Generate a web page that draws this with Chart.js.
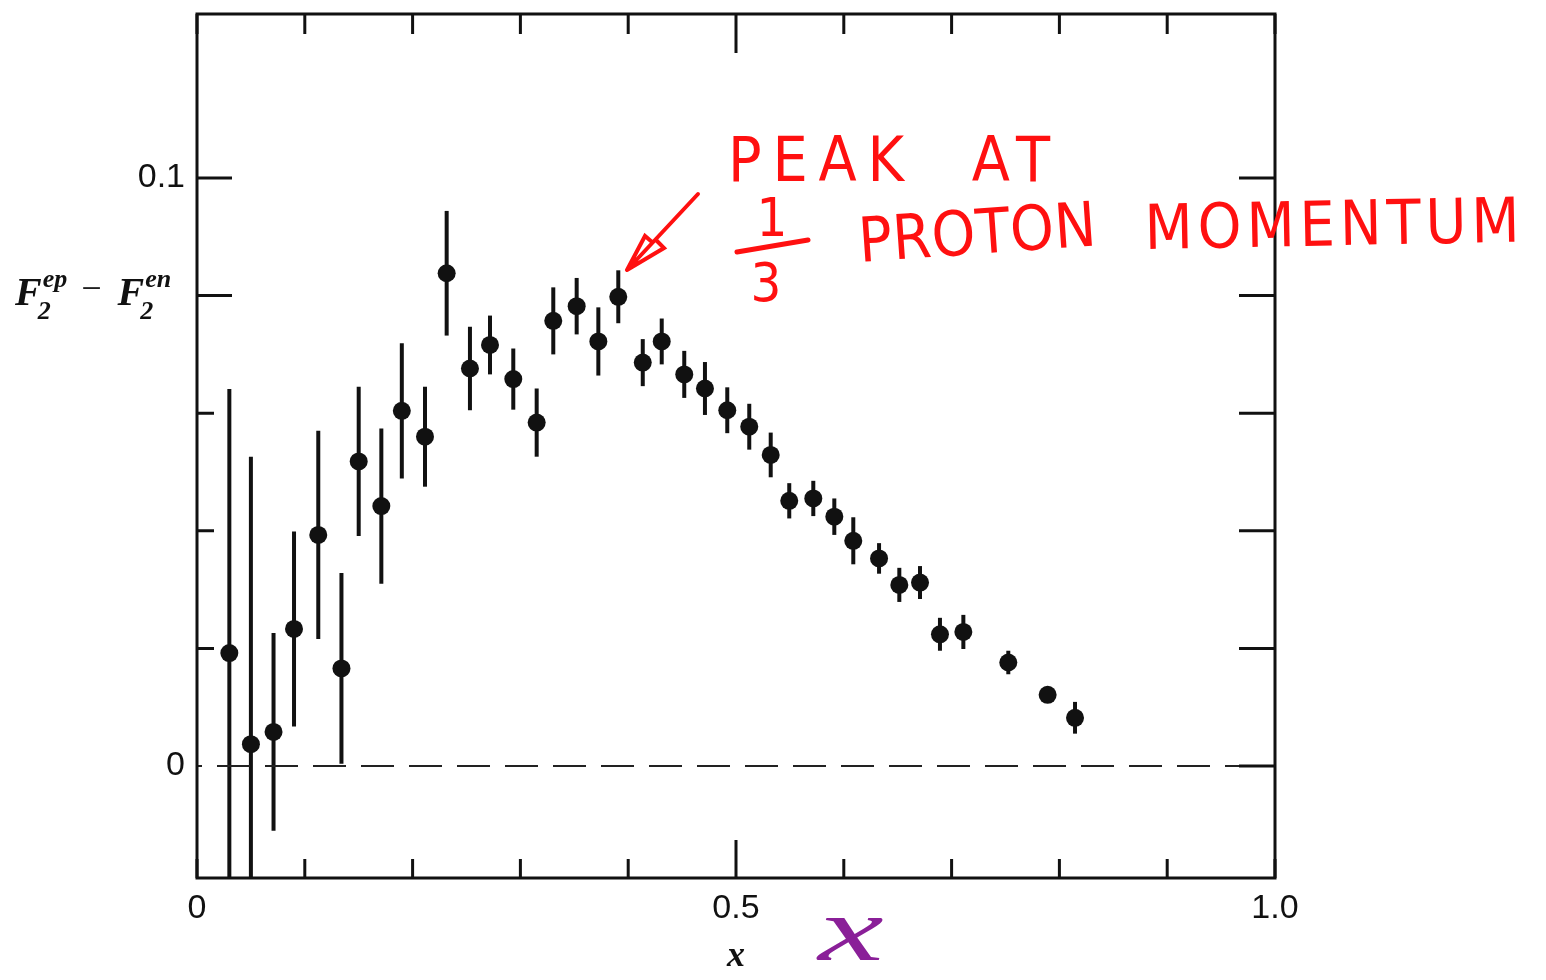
<!DOCTYPE html>
<html>
<head>
<meta charset="utf-8">
<title>F2ep - F2en</title>
<script src="https://cdn.jsdelivr.net/npm/chart.js@4.4.1/dist/chart.umd.min.js"></script>
<style>
    html, body { margin: 0; padding: 0; background: #ffffff; }
    #wrap { width: 1546px; height: 980px; position: relative; }
</style>
</head>
<body>
<div id="wrap"><canvas id="chart"></canvas></div>
<script>
// ---- data ----
const xValues = [0.030, 0.050, 0.071, 0.090, 0.1125, 0.134, 0.150, 0.171, 0.190, 0.2115,
                 0.2316, 0.2532, 0.2718, 0.2934, 0.3151, 0.3305, 0.3522, 0.3723, 0.3908, 0.4135,
                 0.4311, 0.452, 0.4712, 0.4919, 0.5123, 0.5322, 0.5494, 0.5717, 0.5912, 0.6088,
                 0.6327, 0.6515, 0.6707, 0.6892, 0.7109, 0.7526, 0.7891, 0.8145];
const yValues = [0.0192, 0.0037, 0.0058, 0.0233, 0.0393, 0.0166, 0.0518, 0.0442, 0.0604, 0.0560,
                 0.0838, 0.0676, 0.0716, 0.0658, 0.0584, 0.0757, 0.0782, 0.0722, 0.0798, 0.0686,
                 0.0722, 0.0666, 0.0642, 0.0605, 0.0577, 0.0529, 0.0451, 0.0455, 0.0424, 0.0383,
                 0.0353, 0.0308, 0.0312, 0.0224, 0.0228, 0.0176, 0.0121, 0.0082];
const yErrors = [0.0449, 0.0489, 0.0168, 0.0166, 0.0177, 0.0162, 0.0127, 0.0132, 0.0115, 0.0085,
                 0.0106, 0.0071, 0.0050, 0.0052, 0.0058, 0.0057, 0.0048, 0.0058, 0.0045, 0.0040,
                 0.0039, 0.0040, 0.0045, 0.0039, 0.0039, 0.0038, 0.0030, 0.0030, 0.0031, 0.0040,
                 0.0026, 0.0029, 0.0028, 0.0028, 0.0029, 0.0020, 0.0012, 0.0027];

const xTickValues = [0, 0.1, 0.2, 0.3, 0.4, 0.5, 0.6, 0.7, 0.8, 0.9, 1.0];
const xTickLabels = ['0', '', '', '', '', '0.5', '', '', '', '', '1.0'];
const yTickValues = [0, 0.02, 0.04, 0.06, 0.08, 0.1];
const yTickLabels = ['0', '', '', '', '', '0.1'];

const xRange = [0, 1.0];
const yRange = [-0.01905, 0.12789];
const zeroLine = [0, 0];

// error bars under the markers
const errorBars = {
    id: 'errorBars',
    beforeDatasetsDraw(chart) {
        const { ctx, chartArea, scales: { x, y } } = chart;
        ctx.save();
        ctx.beginPath();
        ctx.rect(chartArea.left, chartArea.top, chartArea.right - chartArea.left, chartArea.bottom - chartArea.top);
        ctx.clip();
        ctx.strokeStyle = '#111';
        ctx.lineWidth = 4;
        xValues.forEach((xv, i) => {
            const px = x.getPixelForValue(xv);
            ctx.beginPath();
            ctx.moveTo(px, y.getPixelForValue(yValues[i] - yErrors[i]));
            ctx.lineTo(px, y.getPixelForValue(yValues[i] + yErrors[i]));
            ctx.stroke();
        });
        ctx.restore();
    }
};

// box frame with inward ticks on all four sides
const frameTicks = {
    id: 'frameTicks',
    afterDatasetsDraw(chart) {
        const { ctx, chartArea: a, scales: { x, y } } = chart;
        ctx.save();
        ctx.strokeStyle = '#111';
        ctx.lineWidth = 3;
        ctx.strokeRect(a.left, a.top, a.right - a.left, a.bottom - a.top);
        ctx.beginPath();
        xTickValues.forEach(v => {
            const px = x.getPixelForValue(v);
            const len = (v === 0.5) ? 38 : 19;
            ctx.moveTo(px, a.bottom); ctx.lineTo(px, a.bottom - len);
            ctx.moveTo(px, a.top); ctx.lineTo(px, a.top + len + 1);
        });
        yTickValues.forEach(v => {
            const py = y.getPixelForValue(v);
            if (v !== 0) {
                const leftLen = (v >= 0.08) ? 35 : 17;
                ctx.moveTo(a.left, py); ctx.lineTo(a.left + leftLen, py);
            }
            ctx.moveTo(a.right, py); ctx.lineTo(a.right - 36, py);
        });
        ctx.stroke();
        ctx.restore();
    }
};

// write text stretched by letter spacing so it covers a given width
function spreadText(ctx, text, x, y, width) {
    ctx.letterSpacing = '0px';
    const w = ctx.measureText(text).width;
    const gap = Math.max(0, (width - w) / (text.length - 1));
    ctx.letterSpacing = gap + 'px';
    ctx.fillText(text, x, y);
    ctx.letterSpacing = '0px';
}

// axis titles and the hand-written notes
const notes = {
    id: 'notes',
    afterDraw(chart) {
        const { ctx, scales: { x, y } } = chart;
        ctx.save();
        ctx.fillStyle = '#111';
        ctx.textBaseline = 'alphabetic';

        // y title  F2^ep - F2^en
        const base = y.getPixelForValue(0.08) + 9;
        let cx = 15;
        const big = 'italic bold 40px "Liberation Serif", serif';
        const small = 'italic bold 26px "Liberation Serif", serif';
        function fTerm(sup) {
            ctx.font = big;
            ctx.fillText('F', cx, base);
            cx += ctx.measureText('F').width + 1;
            ctx.font = small;
            ctx.fillText(sup, cx, base - 18);
            ctx.fillText('2', cx - 5, base + 14);
            cx += ctx.measureText(sup).width;
        }
        fTerm('ep');
        ctx.font = '36px "Liberation Serif", serif';
        ctx.fillText('\u2212', cx + 14, base - 5);
        cx += 14 + ctx.measureText('\u2212').width + 16;
        fTerm('en');

        // x title
        ctx.font = 'italic bold 36px "Liberation Serif", serif';
        ctx.textAlign = 'center';
        ctx.fillText('x', x.getPixelForValue(0.5), 966);

        // purple hand-written x
        ctx.save();
        ctx.fillStyle = '#8a1f98';
        ctx.font = 'italic 92px "Liberation Serif", serif';
        ctx.translate(851, 960);
        ctx.scale(1.6, 1);
        ctx.fillText('x', 0, 0);
        ctx.restore();

        // red annotation
        ctx.fillStyle = '#ff1010';
        ctx.strokeStyle = '#ff1010';
        ctx.textAlign = 'left';
        const hand = '62px "DejaVu Sans Condensed", "Liberation Sans Narrow", sans-serif';
        ctx.font = hand;
        spreadText(ctx, 'PEAK  AT', 728, 181, 322);

        ctx.save();
        ctx.translate(860, 262);
        ctx.rotate(-0.07);
        spreadText(ctx, 'PROTON', 0, 0, 238);
        ctx.restore();

        ctx.save();
        ctx.translate(1145, 249);
        ctx.rotate(-0.02);
        spreadText(ctx, 'MOMENTUM', 0, 0, 375);
        ctx.restore();

        ctx.font = '54px "DejaVu Sans Condensed", "Liberation Sans Narrow", sans-serif';
        ctx.textAlign = 'center';
        ctx.fillText('1', 772, 236);
        ctx.fillText('3', 766, 301);
        ctx.lineWidth = 5;
        ctx.lineCap = 'round';
        ctx.beginPath();
        ctx.moveTo(737, 252); ctx.lineTo(808, 240);
        ctx.stroke();

        // arrow to the peak
        ctx.lineWidth = 4;
        ctx.beginPath();
        ctx.moveTo(698, 194); ctx.lineTo(627, 270);
        ctx.moveTo(627, 270); ctx.lineTo(645, 236);
        ctx.lineTo(652, 242);
        ctx.moveTo(627, 270); ctx.lineTo(664, 248);
        ctx.lineTo(656, 240);
        ctx.stroke();
        ctx.restore();
    }
};

const ctx = document.getElementById('chart');
new Chart(ctx, {
    type: 'scatter',
    data: {
        datasets: [
            {
                label: 'zero',
                type: 'line',
                data: xRange.map((v, i) => ({ x: v, y: zeroLine[i] })),
                borderColor: '#222',
                borderWidth: 2,
                borderDash: [33, 15],
                borderDashOffset: 28,
                pointRadius: 0,
                fill: false
            },
            {
                label: 'F2ep - F2en',
                data: xValues.map((v, i) => ({ x: v, y: yValues[i] })),
                backgroundColor: '#111',
                borderWidth: 0,
                pointRadius: 9,
                pointHoverRadius: 9
            }
        ]
    },
    options: {
        responsive: true,
        maintainAspectRatio: false,
        animation: false,
        events: [],
        layout: { padding: { top: 14, right: 271, bottom: 0, left: 0 } },
        plugins: {
            legend: { display: false },
            tooltip: { enabled: false }
        },
        scales: {
            x: {
                type: 'linear',
                min: xRange[0],
                max: xRange[1],
                grid: { display: false, drawTicks: false },
                border: { display: false },
                afterBuildTicks: (s) => { s.ticks = xTickValues.map(v => ({ value: v })); },
                afterFit: (s) => { s.height = 102; s.paddingLeft = 0; s.paddingRight = 0; },
                ticks: {
                    autoSkip: false,
                    maxRotation: 0,
                    padding: 10,
                    color: '#111',
                    font: { family: '"Liberation Sans", Arial, sans-serif', size: 34 },
                    callback: (value, index) => xTickLabels[index]
                }
            },
            y: {
                type: 'linear',
                min: yRange[0],
                max: yRange[1],
                grid: { display: false, drawTicks: false },
                border: { display: false },
                afterBuildTicks: (s) => { s.ticks = yTickValues.map(v => ({ value: v })); },
                afterFit: (s) => { s.width = 197; s.paddingTop = 0; s.paddingBottom = 0; },
                ticks: {
                    autoSkip: false,
                    padding: 12,
                    color: '#111',
                    font: { family: '"Liberation Sans", Arial, sans-serif', size: 34 },
                    callback: (value, index) => yTickLabels[index]
                }
            }
        }
    },
    plugins: [errorBars, frameTicks, notes]
});
</script>
</body>
</html>
